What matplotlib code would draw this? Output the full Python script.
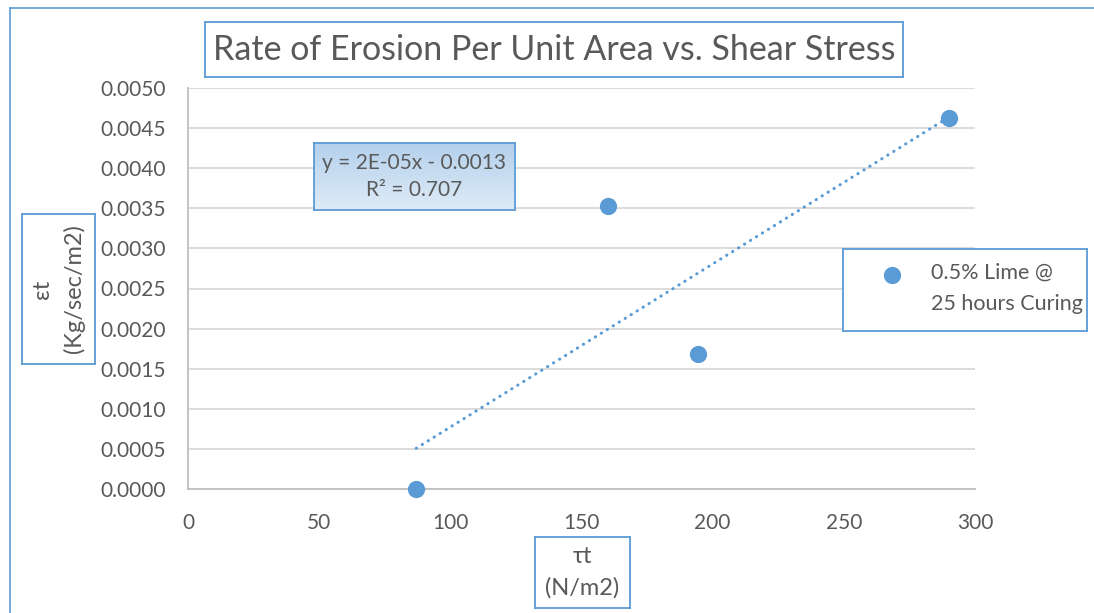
import numpy as np
import matplotlib.pyplot as plt

# shear stress (N/m2) and erosion rate (Kg/sec/m2)
tau = [87.0, 160.0, 194.5, 290.0]
eps = [0.0, 0.00353, 0.00168, 0.00462]
series_name = "0.5% Lime @\n25 hours Curing"
title = "Rate of Erosion Per Unit Area vs. Shear Stress"
xticks = [0, 50, 100, 150, 200, 250, 300]
yticks = [0.0, 0.0005, 0.0010, 0.0015, 0.0020, 0.0025, 0.0030, 0.0035, 0.0040, 0.0045, 0.0050]

blue = "#5B9BD5"
grey_txt = "#595959"
plt.rcParams['font.family'] = ['Lato', 'DejaVu Sans']

W, H = 1094, 613
fig = plt.figure(figsize=(W / 100, H / 100), dpi=100)


def px_axes(x0, y0, x1, y1):
    # axes placed by pixel box, y measured from the top
    return fig.add_axes([x0 / W, 1 - y1 / H, (x1 - x0) / W, (y1 - y0) / H])


def framed_box(x0, y0, x1, y1, text, size, rotation=0, spacing=1.25, **kw):
    bx = px_axes(x0, y0, x1, y1)
    bx.set_xticks([])
    bx.set_yticks([])
    for s in bx.spines.values():
        s.set_color(blue)
        s.set_linewidth(1.3)
    bx.text(0.5, 0.5, text, ha='center', va='center', fontsize=size,
            color=grey_txt, rotation=rotation, transform=bx.transAxes,
            linespacing=spacing, **kw)
    return bx


# outer chart border
fig.add_artist(plt.Line2D([10 / W, 10 / W], [0, 1 - 8 / H], color=blue, lw=1.2))
fig.add_artist(plt.Line2D([10 / W, 1], [1 - 8 / H, 1 - 8 / H], color=blue, lw=1.2))

ax = px_axes(188, 88, 975, 489)
ax.set_xlim(0, 300)
ax.set_ylim(0, 0.005)
ax.set_xticks(xticks)
ax.set_yticks(yticks)
ax.set_yticklabels([f"{v:.4f}" for v in yticks])
ax.tick_params(length=0, labelsize=15, labelcolor=grey_txt)
ax.tick_params(axis='y', pad=16)
ax.tick_params(axis='x', pad=17)
for side, s in ax.spines.items():
    s.set_visible(side in ('left', 'bottom'))
    s.set_color('#BFBFBF')
    s.set_linewidth(1.3)
ax.grid(axis='y', color='#D9D9D9', lw=1.3)
ax.set_axisbelow(True)

ax.scatter(tau, eps, s=130, color=blue, zorder=3, clip_on=False)

# linear trendline
slope, icpt = np.polyfit(tau, eps, 1)
r2 = np.corrcoef(tau, eps)[0, 1] ** 2
xs = np.array([min(tau), max(tau)])
ax.plot(xs, slope * xs + icpt, color=blue, lw=2.2,
        linestyle=(0, (0.1, 2.2)), dash_capstyle='round', zorder=2)

# equation box with a soft blue gradient
eq = px_axes(314, 143, 515, 210)
grad = np.linspace(0, 1, 50)[:, None]
eq.imshow(grad, cmap=plt.matplotlib.colors.LinearSegmentedColormap.from_list(
    'g', ['#DEEBF7', '#B4D0EC']), aspect='auto', extent=(0, 1, 0, 1))
eq.set_xlim(0, 1)
eq.set_ylim(1, 0)
eq.set_xticks([])
eq.set_yticks([])
for s in eq.spines.values():
    s.set_color(blue)
    s.set_linewidth(1.3)
eq.text(0.5, 0.5, f"y = {slope:.0E}x - {abs(icpt):.4f}\nR² = {r2:.3f}",
        ha='center', va='center', fontsize=15, color=grey_txt,
        transform=eq.transAxes, linespacing=1.45)

framed_box(205, 22, 903, 77, title, 24.5)
framed_box(22, 214, 95, 364, "εt\n(Kg/sec/m2)", 17, rotation=90, spacing=1.55)
framed_box(535, 537, 630, 608, "τt\n(N/m2)", 17, spacing=1.55)

# legend box
lg = framed_box(843, 249, 1087, 331, "", 1)
lg.scatter([0.2], [0.68], s=130, color=blue, transform=lg.transAxes)
lg.text(0.36, 0.52, series_name, ha='left', va='center', fontsize=15.5,
        color=grey_txt, transform=lg.transAxes, linespacing=1.65)

fig.savefig("out.png", dpi=100)
